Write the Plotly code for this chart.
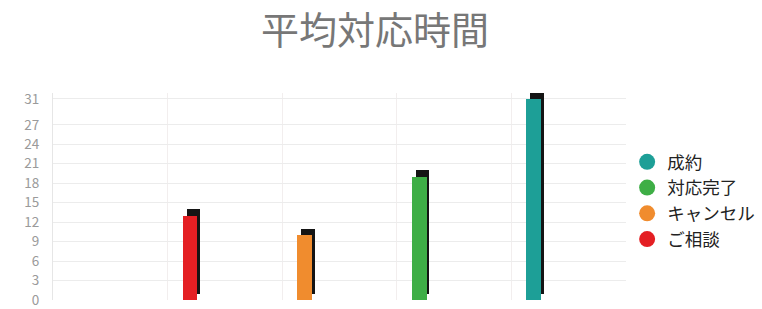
import plotly.graph_objects as go

title = "平均対応時間"
categories = ["ご相談", "キャンセル", "対応完了", "成約"]
values = [13, 10, 19, 31]
colors = ["#e41f23", "#f08c2e", "#3eae46", "#1d9f97"]
tick_vals = [0, 3, 6, 9, 12, 15, 18, 21, 24, 27, 31]

FONT = "Noto Sans CJK JP"
fig = go.Figure()

slots = [i + 1 for i in range(len(categories))]

# shadows
fig.add_trace(go.Bar(
    x=slots, y=values, base=1, width=0.12, offset=0.165,
    marker=dict(color="#141414", line=dict(width=0)),
    showlegend=False, hoverinfo="skip", cliponaxis=False,
))
# front bars
fig.add_trace(go.Bar(
    x=slots, y=values, width=0.13, offset=0.13,
    marker=dict(color=colors, line=dict(width=0)),
    showlegend=False, cliponaxis=False,
))
# legend entries (reversed order as in reference)
for name, col in reversed(list(zip(categories, colors))):
    fig.add_trace(go.Scatter(
        x=[None], y=[None], mode="markers", name=name,
        marker=dict(symbol="circle", size=20, color=col),
    ))

fig.update_layout(
    width=762, height=309,
    margin=dict(l=53, r=136, t=93, b=9, autoexpand=False),
    paper_bgcolor="white", plot_bgcolor="white",
    barmode="overlay",
    title=dict(text=title, x=375 / 762, xref="container", xanchor="center",
               y=1 - 31 / 309, yref="container", yanchor="middle",
               font=dict(family=FONT, size=38, color="#777777")),
    font=dict(family=FONT, color="#888888"),
    legend=dict(x=1.002, xanchor="left", y=0.481, yanchor="middle",
                font=dict(family=FONT, size=17.5, color="#222222"),
                tracegroupgap=0, itemsizing="trace", bgcolor="rgba(0,0,0,0)"),
    xaxis=dict(range=[0, 5], tickvals=[1, 2, 3, 4], showticklabels=False,
               showgrid=True, gridcolor="#f2eeee", gridwidth=1, zeroline=False,
               showline=False, automargin=False),
    yaxis=dict(range=[0, 31.9], tickvals=tick_vals, ticktext=[str(v) for v in tick_vals],
               showgrid=True, gridcolor="#ececec", gridwidth=1, zeroline=False,
               showline=True, linecolor="#e6e6e6", automargin=False,
               ticklabelstandoff=10,
               tickfont=dict(family=FONT, size=13.5, color="#9a9a9a"), ticks=""),
    bargap=0,
)

fig.write_html("out.html", config={"displayModeBar": False},
               post_script="document.body.style.margin='0';")
